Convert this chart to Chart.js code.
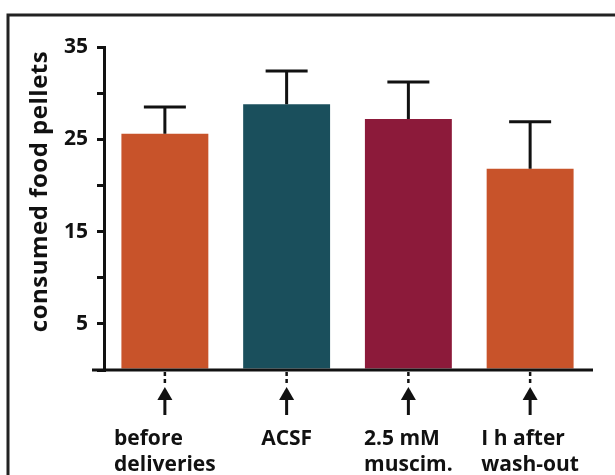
<!DOCTYPE html>
<html>
<head>
<script src="https://cdn.jsdelivr.net/npm/chart.js@4"></script>
</head>
<body style="margin:0;background:#fff;">
<div style="width:615px;height:475px;position:relative;">
	<canvas id="barChart" width="615" height="475"></canvas>
</div>
<script>
	// values
	var labels = [["before","deliveries"],["ACSF"],["2.5 mM","muscim."],["I h after","wash-out"]];
	var means = [25.6, 28.8, 27.2, 21.8];
	var errors = [2.9, 3.6, 4.0, 5.1];
	var colors = ["#c8532a","#1a4f5c","#8c1a3a","#c8532a"];
	var yTicksShown = [5, 15, 25, 35];
	var yTitle = "consumed food pellets";
	var fontFam = "'Open Sans', Lato, sans-serif";

	var extras = {
		id: "extras",
		afterDatasetsDraw: function(chart){
			var ctx = chart.ctx;
			var x = chart.scales.x, y = chart.scales.y;
			var area = chart.chartArea;
			ctx.save();
			ctx.strokeStyle = "#111";
			ctx.lineWidth = 3;
			// error bars
			for(var i = 0;i<means.length;i++){
				var cx = x.getPixelForValue(i);
				var top = y.getPixelForValue(means[i]);
				var cap = y.getPixelForValue(means[i]+errors[i]);
				ctx.beginPath();
				ctx.moveTo(cx, top);
				ctx.lineTo(cx, cap);
				ctx.moveTo(cx-21, cap);
				ctx.lineTo(cx+21, cap);
				ctx.stroke();
			}
			// x axis line
			var base = y.getPixelForValue(0);
			ctx.beginPath();
			ctx.moveTo(area.left-12, base);
			ctx.lineTo(area.right+2, base);
			ctx.stroke();
			// arrows and labels
			ctx.fillStyle = "#111";
			ctx.font = "bold 21px " + fontFam;
			ctx.textBaseline = "alphabetic";
			for(var i = 0;i<labels.length;i++){
				var cx = x.getPixelForValue(i);
				ctx.lineWidth = 2.5;
				ctx.setLineDash([4,3]);
				ctx.beginPath();
				ctx.moveTo(cx, base+2);
				ctx.lineTo(cx, base+13);
				ctx.stroke();
				ctx.setLineDash([]);
				ctx.lineWidth = 3;
				ctx.beginPath();
				ctx.moveTo(cx, base+26);
				ctx.lineTo(cx, base+45);
				ctx.stroke();
				ctx.beginPath();
				ctx.moveTo(cx, base+17);
				ctx.lineTo(cx-7.5, base+30);
				ctx.lineTo(cx+7.5, base+30);
				ctx.closePath();
				ctx.fill();
				var w = 0;
				for(var k = 0;k<labels[i].length;k++){
					w = Math.max(w, ctx.measureText(labels[i][k]).width);
				}
				ctx.textAlign = "left";
				for(var k = 0;k<labels[i].length;k++){
					ctx.fillText(labels[i][k], cx - w/2, base+75+k*26);
				}
			}
			// y title
			ctx.translate(47, (area.top+area.bottom)/2 - 17);
			ctx.rotate(-Math.PI/2);
			ctx.textAlign = "center";
			ctx.font = "bold 24px " + fontFam;
			if("letterSpacing" in ctx) ctx.letterSpacing = "0.5px";
			ctx.fillText(yTitle, 0, 0);
			ctx.restore();
			// frame
			ctx.save();
			ctx.strokeStyle = "#222";
			ctx.lineWidth = 3;
			ctx.strokeRect(8, 15, 640, 500);
			ctx.restore();
		}
	};

	var target = document.querySelector("#barChart").getContext("2d");
	var chart = new Chart(target,{
		type : "bar",
		data : {
			labels: labels.map(function(l){ return l.join(" "); }),
			datasets: [{
				data: means,
				backgroundColor: colors,
				borderWidth: 0,
				barPercentage: 0.714,
				categoryPercentage: 1
			}]
		},
		options: {
			responsive: false,
			animation: false,
			layout: { padding: { top: 47, bottom: 105, right: 24, left: 0 } },
			plugins: { legend: { display: false }, tooltip: { enabled: false } },
			scales: {
				x: {
					display: false
				},
				y: {
					min: 0,
					max: 35,
					afterFit: function(scale){ scale.width = 104; },
					border: { display: true, color: "#111", width: 3 },
					grid: { drawOnChartArea: false, drawTicks: true, color: "#111", lineWidth: 3, tickLength: 7 },
					ticks: {
						stepSize: 5,
						padding: 9,
						color: "#111",
						font: { family: fontFam, weight: "bold", size: 21 },
						callback: function(v){ return yTicksShown.indexOf(v) >= 0 ? v : ""; }
					}
				}
			}
		},
		plugins: [extras]
	});
</script>
</body>
</html>
